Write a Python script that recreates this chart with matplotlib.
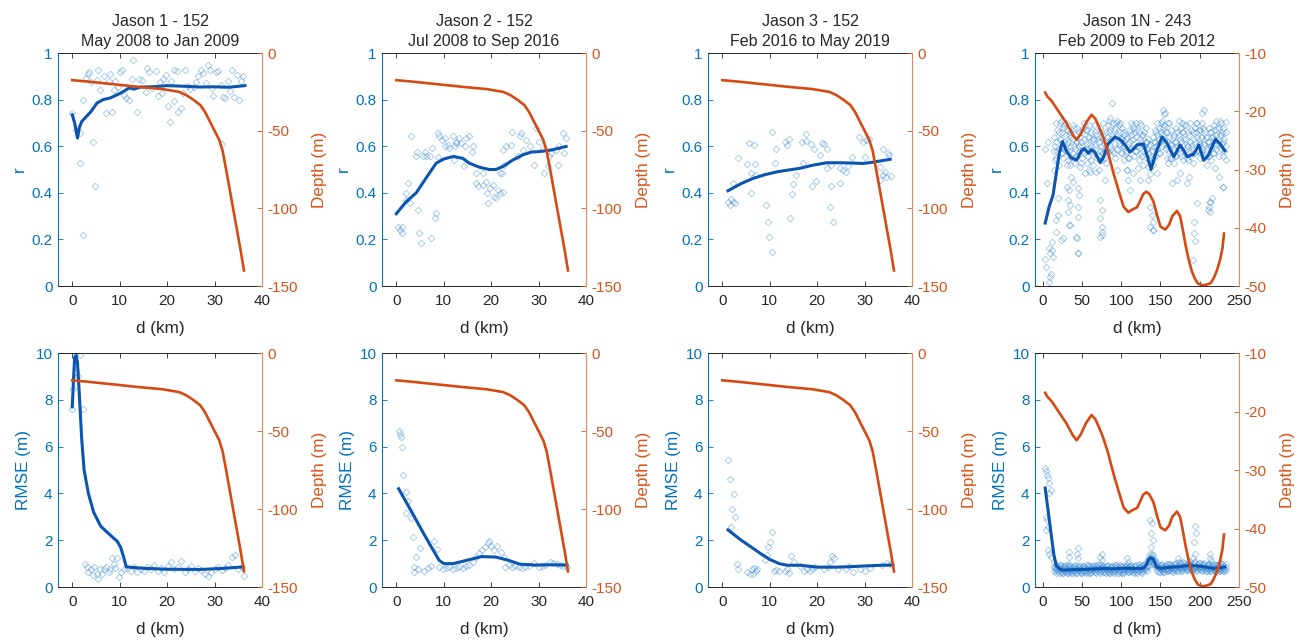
import matplotlib.pyplot as plt

plt.rcParams['font.family'] = ['Liberation Sans', 'DejaVu Sans']
plt.rcParams['axes.unicode_minus'] = False

# ---------------- titles ----------------
titles = ['Jason 1 - 152\nMay 2008 to Jan 2009',
          'Jason 2 - 152\nJul 2008 to Sep 2016',
          'Jason 3 - 152\nFeb 2016 to May 2019',
          'Jason 1N - 243\nFeb 2009 to Feb 2012']

# ---------------- bathymetry (depth, m) ----------------
d_dep_152 = [0, 3, 9, 14, 19, 22.5, 24, 25.5, 27, 28, 29, 30, 31, 31.7, 32.5, 33.5, 34.5, 35.5, 36.2]
dep_152 = [-17.5, -18.3, -20.2, -21.8, -23.2, -25, -27, -30, -33.5, -38, -44, -50, -56, -63,
           -76, -93, -110, -127, -140]

d_dep_243 = [3, 6, 11, 20, 30, 38, 43, 48, 55, 62, 67, 72, 77, 83, 90, 97, 103, 109, 115, 120,
             124, 128, 132, 136, 141, 146, 150, 156, 161, 165, 171, 175, 178, 182, 186, 190, 194,
             198, 204, 210, 214, 218, 222, 226, 229, 231]
dep_243 = [-16.8, -17.5, -18.2, -20, -22, -24, -24.9, -24, -22, -20.6, -21.3, -22.8, -24.5, -27,
           -30.6, -33.8, -36.4, -37.3, -36.8, -36.5, -35.4, -34.2, -33.8, -34.2, -35.5, -38, -39.8,
           -40.3, -39.5, -38, -37.1, -38, -40, -43, -45.5, -47.5, -48.8, -49.6, -49.9, -49.7, -49.5,
           -48.6, -47.3, -45.5, -43.5, -41]

# ---------------- correlation r : smoothed lines ----------------
d_r_j1 = [0, 0.5, 1.1, 1.5, 2, 3, 4, 5.2, 6.5, 8, 10.2, 12, 13, 14.4, 17, 20, 24, 27, 30, 33, 36.4]
r_j1 = [0.735, 0.70, 0.635, 0.68, 0.706, 0.728, 0.75, 0.785, 0.80, 0.807, 0.828, 0.85, 0.845,
        0.854, 0.855, 0.86, 0.857, 0.854, 0.855, 0.853, 0.86]

d_r_j2 = [0, 2, 4.2, 6, 8.4, 10, 12, 14, 15.4, 17.5, 19.6, 21, 22.5, 24.5, 26.7, 28.5, 30.2, 33, 35.8]
r_j2 = [0.31, 0.36, 0.40, 0.455, 0.527, 0.545, 0.556, 0.548, 0.527, 0.51, 0.50, 0.50, 0.513,
        0.54, 0.563, 0.575, 0.577, 0.585, 0.599]

d_r_j3 = [1.2, 4, 6.5, 9, 11.8, 14, 16.3, 19.2, 22, 24.8, 27, 29.7, 32, 35.4]
r_j3 = [0.409, 0.44, 0.462, 0.478, 0.491, 0.498, 0.505, 0.519, 0.529, 0.529, 0.528, 0.526, 0.532, 0.544]

d_r_j1n = [3, 8, 13, 17, 21, 25, 30, 36, 43, 49, 53, 58, 62, 66, 70, 73, 77, 83, 92, 100, 106, 111,
           116, 120, 128, 133, 138, 144, 152, 158, 163, 167, 175, 180, 184, 188, 192, 199, 205, 211,
           216, 220, 226, 232]
r_j1n = [0.27, 0.34, 0.39, 0.48, 0.57, 0.62, 0.58, 0.55, 0.54, 0.58, 0.59, 0.57, 0.585, 0.575, 0.55,
         0.53, 0.55, 0.61, 0.64, 0.625, 0.60, 0.575, 0.59, 0.605, 0.61, 0.56, 0.50, 0.57, 0.64, 0.615,
         0.58, 0.555, 0.605, 0.58, 0.555, 0.56, 0.565, 0.605, 0.54, 0.56, 0.60, 0.63, 0.61, 0.58]

# ---------------- RMSE : smoothed lines ----------------
d_e_j1 = [0, 0.25, 0.5, 0.8, 1.1, 1.5, 2.0, 2.5, 3.4, 4.5, 6, 8, 9.5, 10.2, 10.8, 11.4, 15, 20, 27, 32, 36]
e_j1 = [7.7, 8.8, 9.8, 9.9, 9.6, 8.2, 6.3, 5.0, 4.0, 3.2, 2.6, 2.22, 1.95, 1.7, 1.3, 0.86, 0.8,
        0.76, 0.75, 0.8, 0.86]

d_e_j2 = [0.5, 3, 6, 9, 10, 12, 15, 18, 21, 23.5, 26, 29, 33, 36]
e_j2 = [4.2, 3.3, 2.2, 1.15, 1.0, 1.0, 1.15, 1.3, 1.28, 1.15, 0.98, 0.94, 0.95, 0.94]

d_e_j3 = [1.2, 4, 6, 8, 10, 12, 13.7, 16.5, 20, 24, 27, 30, 33.6, 36]
e_j3 = [2.44, 2.0, 1.72, 1.44, 1.18, 1.0, 0.93, 0.93, 0.85, 0.85, 0.87, 0.9, 0.93, 0.94]

d_e_j1n = [3, 7, 11, 14, 17, 21, 26, 35, 47, 60, 75, 90, 105, 118, 128, 132, 135, 138, 141, 145,
           150, 160, 175, 185, 197, 208, 218, 226, 232]
e_j1n = [4.23, 3.2, 2.15, 1.4, 0.93, 0.78, 0.72, 0.74, 0.75, 0.76, 0.79, 0.78, 0.80, 0.79, 0.80,
         0.95, 1.2, 1.25, 1.18, 0.85, 0.80, 0.84, 0.87, 0.92, 0.90, 0.85, 0.80, 0.82, 0.86]

# ---------------- r : individual points ----------------
dp_r_j1 = [0, 0.8, 1.6, 1.6, 2.3, 2.3, 2.9, 3.3, 3.6, 3.9, 4.3, 4.8, 5.2, 5.5, 5.9, 6.7, 7.2, 7.7,
           8.0, 8.4, 8.7, 9.1, 9.6, 10.0, 10.5, 10.9, 11.4, 11.9, 12.6, 12.9, 13.7, 14.1, 14.8, 15.5,
           15.7, 16.2, 16.9, 17.6, 18.0, 18.5, 19.0, 19.2, 19.7, 20.1, 20.6, 20.9, 21.4, 21.5, 22.1,
           22.2, 22.9, 23.3, 23.8, 24.5, 24.9, 25.6, 26.1, 26.5, 27.1, 27.6, 28.1, 28.6, 29.0, 29.5,
           29.7, 30.4, 30.8, 31.3, 31.6, 31.8, 32.3, 32.9, 33.2, 33.7, 34.2, 34.7, 35.2, 35.6, 36.1]
rp_j1 = [0.742, 0.668, 0.656, 0.527, 0.219, 0.80, 0.893, 0.911, 0.917, 0.874, 0.616, 0.430, 0.885,
         0.925, 0.842, 0.903, 0.742, 0.878, 0.911, 0.745, 0.842, 0.878, 0.854, 0.917, 0.928, 0.821,
         0.807, 0.797, 0.888, 0.971, 0.745, 0.888, 0.885, 0.831, 0.936, 0.917, 0.850, 0.921, 0.814,
         0.874, 0.828, 0.888, 0.907, 0.774, 0.702, 0.878, 0.928, 0.792, 0.921, 0.745, 0.764, 0.828,
         0.925, 0.860, 0.845, 0.854, 0.874, 0.903, 0.928, 0.914, 0.871, 0.950, 0.928, 0.850, 0.814,
         0.917, 0.921, 0.864, 0.610, 0.811, 0.807, 0.878, 0.835, 0.928, 0.811, 0.907, 0.799, 0.882,
         0.903]

dp_r_j2 = [3.2, 8.8, 9.1, 9.7, 10.2, 11.9, 10.9, 11.2, 12.5, 13.3, 13.7, 14.4, 15.4, 14.7, 16.1,
           16.0, 14.2, 12.3, 12.6, 10.2, 7.6, 6.0, 6.3, 5.6, 7.0, 4.1, 4.4, 8.8, 12.1, 16.8, 16.7,
           17.2, 18.2, 18.2, 18.9, 19.1, 19.3, 19.8, 20.4, 20.7, 21.1, 21.4, 21.9, 22.5, 21.8, 22.3,
           22.8, 22.5, 23.2, 24.2, 24.4, 25.6, 26.1, 26.3, 26.7, 27.4, 28.1, 29.1, 29.5, 30.0, 30.9,
           31.2, 31.9, 32.3, 32.6, 33.7, 34.0, 34.4, 35.1, 35.8, 35.4, 0.4, 0.7, 1.1, 1.3, 2.5, 2.0,
           2.8, 2.1, 4.6, 4.8, 5.3, 7.4, 8.3, 8.1]
rp_j2 = [0.645, 0.656, 0.642, 0.627, 0.635, 0.642, 0.606, 0.592, 0.620, 0.635, 0.613, 0.599, 0.642,
         0.635, 0.599, 0.577, 0.513, 0.599, 0.613, 0.599, 0.592, 0.577, 0.559, 0.556, 0.556, 0.559,
         0.577, 0.553, 0.542, 0.484, 0.441, 0.430, 0.484, 0.434, 0.448, 0.398, 0.355, 0.420, 0.434,
         0.384, 0.377, 0.413, 0.398, 0.405, 0.484, 0.487, 0.520, 0.585, 0.599, 0.606, 0.663, 0.556,
         0.642, 0.656, 0.585, 0.627, 0.599, 0.520, 0.678, 0.616, 0.587, 0.484, 0.513, 0.556, 0.570,
         0.585, 0.520, 0.599, 0.656, 0.635, 0.570, 0.255, 0.241, 0.226, 0.255, 0.441, 0.398, 0.355,
         0.370, 0.327, 0.226, 0.186, 0.205, 0.312, 0.291]

dp_r_j3 = [10.4, 5.6, 6.6, 13.2, 14.1, 13.7, 11.4, 16.8, 17.7, 17.6, 18.7, 19.4, 21.1, 21.4, 22.1,
           20.7, 3.4, 5.3, 6.8, 6.0, 7.0, 11.1, 17.0, 15.5, 22.0, 23.0, 24.8, 26.5, 27.3, 28.9, 29.6,
           30.4, 31.0, 30.1, 25.5, 26.1, 33.2, 33.8, 35.0, 35.2, 34.3, 33.8, 34.6, 35.5, 33.2, 2.3,
           6.1, 14.9, 14.8, 19.7, 19.0, 23.0, 24.9, 1.2, 1.9, 2.3, 1.7, 2.6, 9.2, 14.2, 22.8, 23.4,
           9.6, 9.9, 10.4]
rp_j3 = [0.659, 0.615, 0.605, 0.619, 0.632, 0.604, 0.587, 0.619, 0.651, 0.624, 0.609, 0.587, 0.615,
         0.609, 0.589, 0.562, 0.549, 0.524, 0.524, 0.484, 0.475, 0.526, 0.526, 0.476, 0.505, 0.519,
         0.505, 0.515, 0.555, 0.638, 0.619, 0.627, 0.629, 0.555, 0.498, 0.491, 0.509, 0.589, 0.569,
         0.562, 0.491, 0.476, 0.466, 0.474, 0.455, 0.441, 0.398, 0.438, 0.395, 0.452, 0.429, 0.429,
         0.441, 0.362, 0.372, 0.362, 0.348, 0.355, 0.348, 0.290, 0.338, 0.276, 0.276, 0.212, 0.147]

# Jason 1N: dense band (samples per along-track position) plus outliers
d_band_j1n = [14, 17, 20, 23, 26, 29, 32, 35, 38, 41, 44, 47, 50, 53, 56, 59, 62, 65, 68, 71, 74,
              77, 80, 83, 86, 89, 92, 95, 98, 101, 104, 107, 110, 113, 116, 119, 122, 125, 128, 131,
              134, 137, 140, 143, 146, 149, 152, 155, 158, 161, 164, 167, 170, 173, 176, 179, 182,
              185, 188, 191, 194, 197, 200, 203, 206, 209, 212, 215, 218, 221, 224, 227, 230, 233]
d_band2_j1n = [15.5, 18.5, 21.5, 24.5, 27.5, 30.5, 33.5, 36.5, 39.5, 42.5, 45.5, 48.5, 51.5, 54.5,
               57.5, 60.5, 63.5, 66.5, 69.5, 72.5, 75.5, 78.5, 81.5, 84.5, 87.5, 90.5, 93.5, 96.5,
               99.5, 102.5, 105.5, 108.5, 111.5, 114.5, 117.5, 120.5, 123.5, 126.5, 129.5, 132.5,
               135.5, 138.5, 141.5, 144.5, 147.5, 150.5, 153.5, 156.5, 159.5, 162.5, 165.5, 168.5,
               171.5, 174.5, 177.5, 180.5, 183.5, 186.5, 189.5, 192.5, 195.5, 198.5, 201.5, 204.5,
               207.5, 210.5, 213.5, 216.5, 219.5, 222.5, 225.5, 228.5, 231.5]
r_band_a = [0.58, 0.62, 0.66, 0.71, 0.68, 0.65, 0.62, 0.60, 0.63, 0.59, 0.62, 0.58, 0.66, 0.63,
            0.61, 0.64, 0.60, 0.63, 0.59, 0.56, 0.60, 0.63, 0.66, 0.69, 0.67, 0.70, 0.68, 0.71,
            0.66, 0.63, 0.60, 0.58, 0.62, 0.65, 0.68, 0.70, 0.66, 0.69, 0.65, 0.62, 0.57, 0.55,
            0.58, 0.62, 0.65, 0.68, 0.71, 0.69, 0.66, 0.64, 0.61, 0.59, 0.62, 0.65, 0.68, 0.66,
            0.63, 0.60, 0.62, 0.66, 0.68, 0.70, 0.67, 0.64, 0.61, 0.59, 0.62, 0.66, 0.69, 0.71,
            0.68, 0.65, 0.62, 0.60]
r_band_b = [0.64, 0.55, 0.59, 0.63, 0.60, 0.58, 0.54, 0.66, 0.57, 0.53, 0.56, 0.64, 0.60, 0.70,
            0.67, 0.58, 0.66, 0.57, 0.65, 0.62, 0.54, 0.57, 0.59, 0.62, 0.60, 0.64, 0.61, 0.65,
            0.60, 0.57, 0.54, 0.64, 0.55, 0.59, 0.61, 0.64, 0.60, 0.62, 0.58, 0.55, 0.51, 0.48,
            0.52, 0.56, 0.59, 0.62, 0.65, 0.63, 0.60, 0.58, 0.55, 0.53, 0.56, 0.59, 0.62, 0.60,
            0.57, 0.54, 0.56, 0.59, 0.62, 0.64, 0.61, 0.58, 0.55, 0.52, 0.56, 0.60, 0.63, 0.65,
            0.62, 0.59, 0.56, 0.54]
r_band_c = [0.50, 0.70, 0.52, 0.57, 0.55, 0.70, 0.67, 0.52, 0.69, 0.65, 0.68, 0.51, 0.55, 0.57,
            0.53, 0.50, 0.54, 0.69, 0.49, 0.50, 0.66, 0.70, 0.53, 0.57, 0.72, 0.58, 0.55, 0.59,
            0.70, 0.68, 0.65, 0.50, 0.67, 0.70, 0.56, 0.58, 0.54, 0.57, 0.52, 0.68, 0.63, 0.61,
            0.64, 0.67, 0.70, 0.57, 0.60, 0.74, 0.55, 0.70, 0.67, 0.65, 0.68, 0.71, 0.56, 0.54,
            0.69, 0.66, 0.70, 0.53, 0.57, 0.58, 0.55, 0.70, 0.67, 0.64, 0.68, 0.54, 0.57, 0.59,
            0.56, 0.70, 0.68, 0.66]
r_band_d = [0.60, 0.67, 0.63, 0.66, 0.62, 0.61, 0.58, 0.64, 0.60, 0.56, 0.60, 0.62, 0.58, 0.67,
            0.64, 0.61, 0.63, 0.60, 0.55, 0.58, 0.57, 0.61, 0.64, 0.66, 0.63, 0.67, 0.64, 0.69,
            0.63, 0.60, 0.57, 0.61, 0.59, 0.63, 0.66, 0.67, 0.63, 0.65, 0.60, 0.59, 0.54, 0.53,
            0.55, 0.60, 0.63, 0.66, 0.68, 0.66, 0.62, 0.61, 0.58, 0.56, 0.60, 0.63, 0.66, 0.63,
            0.60, 0.57, 0.60, 0.63, 0.66, 0.67, 0.64, 0.61, 0.58, 0.56, 0.60, 0.64, 0.67, 0.68,
            0.65, 0.61, 0.58]
r_band_e = [0.54, 0.58, 0.70, 0.57, 0.69, 0.52, 0.65, 0.55, 0.68, 0.62, 0.66, 0.53, 0.68, 0.59,
            0.56, 0.69, 0.52, 0.66, 0.63, 0.68, 0.64, 0.55, 0.58, 0.71, 0.59, 0.57, 0.70, 0.61,
            0.57, 0.66, 0.63, 0.55, 0.66, 0.69, 0.58, 0.60, 0.70, 0.56, 0.66, 0.62, 0.60, 0.58,
            0.62, 0.66, 0.57, 0.70, 0.61, 0.59, 0.70, 0.55, 0.64, 0.62, 0.66, 0.57, 0.70, 0.69,
            0.55, 0.65, 0.67, 0.57, 0.70, 0.61, 0.57, 0.68, 0.64, 0.62, 0.66, 0.57, 0.60, 0.61,
            0.71, 0.66, 0.63]
d_out_j1n = [3.4, 4.3, 9.4, 7.7, 10.7, 12, 12.8, 5.1, 3.4, 6.4, 16.2, 17.1, 19.2, 19.2, 23.5, 25.6,
             30.8, 33.3, 32, 34.2, 32, 36.3, 34.2, 44.9, 46.2, 44.9, 42.7, 44.9, 38.5, 53.4, 59.8,
             72.6, 74.8, 73.5, 74.8, 72.6, 76, 79, 87.6, 94, 106.8, 109, 111, 115.4, 124, 121.8,
             136.8, 139, 141, 136.8, 140, 134.6, 145.3, 153.8, 156, 160, 164.5, 171, 175, 184, 186,
             193, 192.3, 196.6, 203, 205, 211.5, 213.7, 212.8, 215.8, 220, 224.4, 230, 232.9, 9.4,
             7.7, 12, 34, 44, 45, 45, 75.6, 141, 192, 194, 213, 211, 229.5]
r_out_j1n = [0.116, 0.083, 0.04, 0.019, 0.05, 0.155, 0.126, 0.44, 0.59, 0.62, 0.233, 0.283, 0.305,
             0.376, 0.197, 0.205, 0.426, 0.412, 0.369, 0.348, 0.319, 0.469, 0.262, 0.419, 0.391,
             0.34, 0.212, 0.14, 0.448, 0.484, 0.491, 0.369, 0.326, 0.29, 0.255, 0.212, 0.233, 0.455,
             0.784, 0.498, 0.498, 0.455, 0.412, 0.484, 0.455, 0.505, 0.34, 0.305, 0.276, 0.255,
             0.24, 0.455, 0.484, 0.755, 0.741, 0.526, 0.44, 0.455, 0.484, 0.44, 0.469, 0.276, 0.226,
             0.355, 0.741, 0.755, 0.34, 0.362, 0.319, 0.376, 0.505, 0.469, 0.426, 0.705, 0.14,
             0.162, 0.19, 0.262, 0.205, 0.143, 0.298, 0.219, 0.24, 0.112, 0.195, 0.362, 0.327, 0.427]

# ---------------- RMSE : individual points ----------------
dp_e_j1 = [0, 0.2, 0.6, 1.3, 1.6, 0.8, 2.3, 2.7, 3.2, 3.4, 3.9, 4.3, 4.6, 5.2, 5.5, 5.9, 6.2, 6.7,
           7.2, 7.7, 8.0, 8.4, 8.7, 9.1, 9.4, 9.8, 10.3, 10.9, 11.6, 12.3, 13.0, 13.7, 14.4, 15.1,
           15.8, 16.5, 17.3, 18.0, 18.7, 19.4, 20.1, 20.8, 21.5, 22.2, 22.9, 23.7, 24.4, 25.1, 25.8,
           26.5, 27.2, 27.9, 28.6, 29.3, 30.0, 30.8, 31.5, 32.2, 32.9, 33.6, 34.3, 35.0, 35.7, 36.3]
ep_j1 = [7.6, 8.46, 9.9, 9.04, 9.9, 9.18, 7.63, 1.0, 0.86, 0.65, 0.79, 0.50, 0.86, 0.57, 0.36, 0.79,
         0.57, 0.75, 0.86, 0.65, 0.79, 1.26, 1.0, 0.83, 1.22, 0.43, 0.65, 0.79, 0.83, 0.69, 0.86,
         0.65, 0.79, 0.69, 0.86, 0.75, 0.93, 0.69, 0.83, 0.65, 0.89, 1.08, 0.75, 0.86, 1.12, 0.65,
         0.79, 0.89, 0.69, 0.83, 0.72, 0.57, 0.46, 0.65, 0.79, 0.86, 0.72, 0.83, 0.93, 1.29, 1.36,
         0.75, 0.86, 0.46]

dp_e_j2 = [0.5, 0.7, 0.9, 1.3, 1.5, 2.0, 2.4, 2.1, 3.0, 3.5, 4.9, 4.2, 3.8, 3.7, 4.5, 5.9, 6.6, 7.3,
           7.9, 8.6, 9.1, 9.8, 10.5, 11.2, 11.9, 12.6, 13.3, 14.0, 14.7, 15.4, 16.1, 16.7, 17.4,
           18.1, 18.8, 19.3, 19.5, 20.0, 20.7, 21.3, 22.0, 22.7, 23.0, 23.7, 24.4, 25.1, 25.8, 26.5,
           27.2, 27.9, 29.0, 30.0, 30.7, 31.4, 32.4, 33.1, 33.8, 34.5, 35.2, 35.9]
ep_j2 = [6.68, 6.54, 6.40, 6.0, 4.79, 4.05, 3.69, 3.15, 2.93, 2.12, 1.65, 1.27, 0.84, 0.66, 0.75,
         0.70, 0.80, 0.90, 1.98, 1.61, 0.84, 0.75, 0.80, 0.84, 0.75, 0.80, 0.84, 0.80, 0.90, 0.94,
         1.08, 1.30, 1.47, 1.58, 1.72, 1.87, 1.98, 1.75, 1.58, 1.75, 1.51, 1.30, 0.84, 0.94, 0.84,
         0.90, 0.84, 0.80, 0.84, 0.90, 1.04, 0.84, 0.90, 0.94, 1.08, 1.01, 0.98, 0.94, 0.90, 0.84]

dp_e_j3 = [1.2, 1.6, 2.4, 2.1, 2.6, 1.8, 3.1, 3.3, 5.3, 5.8, 6.2, 6.7, 7.1, 6.5, 7.3, 9.0, 9.4, 9.7,
           10.1, 10.5, 11.0, 11.4, 11.9, 13.3, 13.7, 14.0, 14.4, 15.2, 16.4, 17.2, 17.9, 18.5, 19.0,
           19.5, 21.5, 22.2, 22.8, 23.1, 23.6, 24.3, 26.1, 26.8, 27.5, 29.0, 30.0, 31.1, 33.6, 34.7,
           35.4]
ep_j3 = [5.45, 4.63, 3.99, 3.34, 3.01, 2.55, 1.0, 0.79, 0.65, 0.57, 0.75, 0.83, 0.69, 0.57, 0.79,
         1.15, 1.36, 1.72, 1.94, 2.37, 0.69, 0.72, 0.69, 0.69, 0.79, 0.60, 1.32, 1.08, 0.89, 0.69,
         0.75, 0.69, 0.79, 0.86, 0.75, 0.86, 1.08, 1.32, 1.26, 0.75, 0.79, 0.89, 0.65, 0.75, 0.69,
         0.83, 0.93, 1.03, 0.98]

e_band_a = [1.05, 0.95, 0.88, 0.82, 0.76, 0.80, 0.74, 0.78, 0.72, 0.80, 0.75, 0.79, 0.73, 0.77,
            0.81, 0.74, 0.78, 0.83, 0.76, 0.80, 0.85, 0.79, 0.75, 0.79, 0.73, 0.77, 0.81, 0.76,
            0.80, 0.74, 0.78, 0.82, 0.77, 0.81, 0.75, 0.79, 0.84, 0.78, 0.82, 0.90, 1.10, 1.25,
            1.20, 1.00, 0.85, 0.80, 0.84, 0.79, 0.83, 0.87, 0.81, 0.85, 0.89, 0.83, 0.87, 0.91,
            0.85, 0.89, 0.93, 0.87, 0.91, 0.86, 0.90, 0.84, 0.88, 0.82, 0.86, 0.81, 0.85, 0.79,
            0.83, 0.87, 0.82, 0.86]
e_band_b = [0.85, 0.78, 0.72, 0.66, 0.62, 0.65, 0.60, 0.63, 0.59, 0.66, 0.61, 0.64, 0.60, 0.63,
            0.66, 0.61, 0.64, 0.68, 0.62, 0.66, 0.70, 0.65, 0.61, 0.65, 0.60, 0.63, 0.67, 0.62,
            0.66, 0.61, 0.64, 0.68, 0.63, 0.67, 0.62, 0.65, 0.69, 0.64, 0.68, 0.75, 0.95, 1.10,
            1.05, 0.85, 0.70, 0.66, 0.70, 0.65, 0.69, 0.72, 0.67, 0.71, 0.74, 0.69, 0.73, 0.76,
            0.71, 0.74, 0.78, 0.72, 0.76, 0.71, 0.75, 0.70, 0.73, 0.68, 0.72, 0.67, 0.71, 0.66,
            0.69, 0.72, 0.68, 0.71]
e_band_c = [0.70, 0.62, 0.58, 0.95, 0.90, 0.93, 0.88, 0.92, 0.86, 0.94, 0.89, 0.92, 0.87, 0.90,
            0.95, 0.88, 0.92, 0.96, 0.89, 0.94, 0.98, 0.92, 0.88, 0.93, 0.87, 0.91, 0.95, 0.89,
            0.94, 0.88, 0.92, 0.96, 0.90, 0.95, 0.89, 0.93, 0.97, 0.91, 0.96, 1.05, 1.25, 1.40,
            1.35, 1.15, 0.98, 0.94, 0.98, 0.92, 0.97, 1.00, 0.95, 0.99, 1.03, 0.96, 1.01, 1.05,
            0.99, 1.03, 1.07, 1.00, 1.05, 0.99, 1.04, 0.98, 1.02, 0.96, 1.00, 0.95, 0.99, 0.93,
            0.97, 1.01, 0.96, 0.99]
e_band_d = [0.90, 0.82, 0.77, 0.73, 0.70, 0.74, 0.71, 0.75, 0.70, 0.76, 0.72, 0.75, 0.70, 0.74,
            0.77, 0.71, 0.75, 0.79, 0.73, 0.77, 0.81, 0.75, 0.72, 0.76, 0.70, 0.74, 0.78, 0.73,
            0.77, 0.71, 0.75, 0.79, 0.74, 0.78, 0.72, 0.76, 0.80, 0.75, 0.79, 0.85, 1.05, 1.18,
            1.12, 0.92, 0.80, 0.76, 0.80, 0.75, 0.79, 0.83, 0.78, 0.82, 0.85, 0.80, 0.84, 0.87,
            0.82, 0.85, 0.89, 0.83, 0.87, 0.82, 0.86, 0.80, 0.84, 0.79, 0.83, 0.77, 0.81, 0.76,
            0.80, 0.84, 0.79]
e_band_e = [0.75, 0.68, 0.94, 0.60, 0.90, 0.58, 0.91, 0.61, 0.88, 0.62, 0.91, 0.59, 0.89, 0.62,
            0.93, 0.60, 0.90, 0.64, 0.95, 0.61, 0.92, 0.63, 0.90, 0.60, 0.88, 0.62, 0.93, 0.61,
            0.90, 0.59, 0.92, 0.63, 0.89, 0.64, 0.91, 0.61, 0.95, 0.62, 0.93, 0.70, 0.92, 1.30,
            0.98, 1.08, 0.66, 0.95, 0.65, 0.93, 0.67, 0.97, 0.66, 0.99, 0.70, 1.01, 0.68, 1.04,
            0.71, 1.02, 0.73, 1.05, 0.70, 1.01, 0.72, 0.98, 0.69, 0.97, 0.67, 0.96, 0.68, 0.94,
            0.69, 0.97, 0.70]
d_eout_j1n = [3.4, 4.3, 5.6, 6.4, 8.5, 10.7, 8.5, 4.3, 5.1, 6.4, 4.3, 6.4, 8.5, 10.7, 34, 33, 34,
              45, 43.6, 45, 75, 73.5, 76, 107, 109, 137, 139, 138, 140, 138, 139, 172, 173, 194,
              195.7, 193, 194, 192, 213.7, 212.8, 214.5]
e_out_j1n = [5.09, 4.95, 4.8, 4.66, 4.45, 4.13, 4.0, 3.0, 2.87, 2.58, 2.44, 1.58, 1.43, 1.29, 1.5,
             1.29, 1.0, 1.65, 1.43, 1.22, 1.43, 1.29, 1.15, 1.22, 1.08, 2.87, 2.73, 2.3, 2.0, 1.72,
             1.43, 1.26, 1.08, 2.61, 2.3, 1.94, 1.43, 1.26, 1.43, 1.26, 1.12]

# ---------------- styling ----------------
AX_BLUE = '#0072BD'
AX_ORANGE = '#D95319'
LINE_BLUE = '#0B55B0'
LINE_ORANGE = '#D54A12'
PT_BLUE = '#3d8bd6'
DARK = '#262626'

fig = plt.figure(figsize=(13.04, 6.41), dpi=100)
lefts = [0.0445, 0.293, 0.543, 0.7937]
width = 0.1564
rows = {'top': (0.5538, 0.3635), 'bottom': (0.0842, 0.365)}


def make_panel(col, row, dp, vp, dl, vl, dd, dep, xlim, xticks, ylab, depth_lim, depth_ticks,
               title=None):
    bottom, height = rows[row]
    ax = fig.add_axes([lefts[col], bottom, width, height])
    ax.plot(dp, vp, 'D', mfc='none', mec=PT_BLUE, ms=3.4, mew=0.6, alpha=0.5, zorder=2)
    ax.plot(dl, vl, '-', color=LINE_BLUE, lw=2.2, zorder=3)
    ax.set_xlim(xlim)
    ax.set_xticks(xticks)
    if row == 'top':
        ax.set_ylim(0, 1)
        ax.set_yticks([0, 0.2, 0.4, 0.6, 0.8, 1])
        ax.set_yticklabels(['0', '0.2', '0.4', '0.6', '0.8', '1'])
    else:
        ax.set_ylim(0, 10)
        ax.set_yticks([0, 2, 4, 6, 8, 10])
    ax.set_xlabel('d (km)', fontsize=12.3, color=DARK, labelpad=9)
    ax.set_ylabel(ylab, fontsize=12.3, color=AX_BLUE, labelpad=3)
    ax.tick_params(axis='x', direction='in', length=3.5, width=0.6, colors=DARK, labelsize=11,
                   top=True, pad=6)
    ax.tick_params(axis='y', direction='in', length=3.5, width=0.6, colors=AX_BLUE, labelsize=11,
                   pad=4)
    for s in ['top', 'bottom']:
        ax.spines[s].set_color(DARK)
        ax.spines[s].set_linewidth(0.7)
    ax.spines['left'].set_color(AX_BLUE)
    ax.spines['left'].set_linewidth(0.8)
    ax.spines['right'].set_visible(False)
    if title:
        ax.set_title(title, fontsize=11.5, color=DARK, pad=5, linespacing=1.45)

    ax2 = ax.twinx()
    ax2.plot(dd, dep, '-', color=LINE_ORANGE, lw=1.9)
    ax2.set_ylim(depth_lim)
    ax2.set_yticks(depth_ticks)
    ax2.set_ylabel('Depth (m)', fontsize=12.3, color=AX_ORANGE, labelpad=10)
    ax2.tick_params(axis='y', direction='in', length=3.5, width=0.6, colors=AX_ORANGE,
                    labelsize=11, pad=4)
    for s in ['left', 'top', 'bottom']:
        ax2.spines[s].set_visible(False)
    ax2.spines['right'].set_color('#E8895A')
    ax2.spines['right'].set_linewidth(0.8)
    return ax, ax2


xl_152 = (-3, 40)
xt_152 = [0, 10, 20, 30, 40]
xl_243 = (-10, 250)
xt_243 = [0, 50, 100, 150, 200, 250]
dl_152 = (-150, 0)
dt_152 = [-150, -100, -50, 0]
dl_243 = (-50, -10)
dt_243 = [-50, -40, -30, -20, -10]

# combined Jason 1N point sets
dp_j1n = d_band_j1n * 3 + d_band2_j1n * 2 + d_out_j1n
rp_j1n = r_band_a + r_band_b + r_band_c + r_band_d + r_band_e + r_out_j1n
dpe_j1n = d_band_j1n * 3 + d_band2_j1n * 2 + d_eout_j1n
ep_j1n = e_band_a + e_band_b + e_band_c + e_band_d + e_band_e + e_out_j1n

# top row: correlation
make_panel(0, 'top', dp_r_j1, rp_j1, d_r_j1, r_j1, d_dep_152, dep_152, xl_152, xt_152, 'r',
           dl_152, dt_152, titles[0])
make_panel(1, 'top', dp_r_j2, rp_j2, d_r_j2, r_j2, d_dep_152, dep_152, xl_152, xt_152, 'r',
           dl_152, dt_152, titles[1])
make_panel(2, 'top', dp_r_j3, rp_j3, d_r_j3, r_j3, d_dep_152, dep_152, xl_152, xt_152, 'r',
           dl_152, dt_152, titles[2])
make_panel(3, 'top', dp_j1n, rp_j1n, d_r_j1n, r_j1n, d_dep_243, dep_243, xl_243, xt_243, 'r',
           dl_243, dt_243, titles[3])

# bottom row: RMSE
make_panel(0, 'bottom', dp_e_j1, ep_j1, d_e_j1, e_j1, d_dep_152, dep_152, xl_152, xt_152,
           'RMSE (m)', dl_152, dt_152)
make_panel(1, 'bottom', dp_e_j2, ep_j2, d_e_j2, e_j2, d_dep_152, dep_152, xl_152, xt_152,
           'RMSE (m)', dl_152, dt_152)
make_panel(2, 'bottom', dp_e_j3, ep_j3, d_e_j3, e_j3, d_dep_152, dep_152, xl_152, xt_152,
           'RMSE (m)', dl_152, dt_152)
make_panel(3, 'bottom', dpe_j1n, ep_j1n, d_e_j1n, e_j1n, d_dep_243, dep_243, xl_243, xt_243,
           'RMSE (m)', dl_243, dt_243)

fig.savefig('out.png', dpi=100)
